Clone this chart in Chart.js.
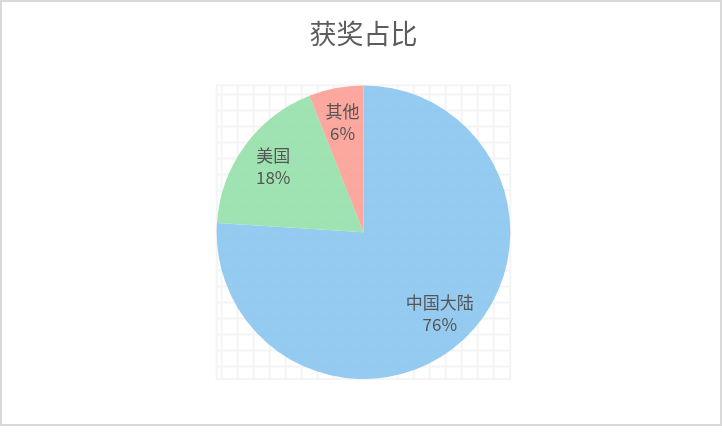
<!DOCTYPE html>
<html>
<head>
<meta charset="utf-8">
<script src="https://cdn.jsdelivr.net/npm/chart.js@4/dist/chart.umd.min.js"></script>
<style>
  body { margin: 0; background: #fff; }
  #box {
    width: 722px; height: 426px;
    box-sizing: border-box;
    border: 2px solid #d9d9d9;
    position: relative;
  }
</style>
</head>
<body>
<div id="box"><canvas id="myChart"></canvas></div>
<script>
// dados do gráfico
const categorias = ['中国大陆', '美国', '其他']
const valores = [76, 18, 6]
const cores = ['rgba(138,196,240,0.9)', 'rgba(149,224,170,0.9)', 'rgba(252,158,147,0.9)']
const titulo = '获奖占比'

const fonteCJK = '"Noto Sans CJK SC", "Noto Sans", sans-serif'

// quadriculado atrás da pizza
const grade = {
  id: 'grade',
  beforeDatasetsDraw(chart) {
    let arc = chart.getDatasetMeta(0).data[0]
    if (!arc) return
    let ctx = chart.ctx
    let r = arc.outerRadius
    let x0 = arc.x - r, y0 = arc.y - r, lado = 2 * r
    ctx.save()
    ctx.strokeStyle = '#f4f4f4'
    ctx.lineWidth = 2
    ctx.strokeRect(x0, y0, lado, lado)
    ctx.beginPath()
    for (let x = x0 + 5; x < x0 + lado - 4; x += 16) {
      ctx.moveTo(x, y0); ctx.lineTo(x, y0 + lado)
    }
    for (let y = y0 + 9; y < y0 + lado - 4; y += 16) {
      ctx.moveTo(x0, y); ctx.lineTo(x0 + lado, y)
    }
    ctx.stroke()
    ctx.restore()
  }
}

// rótulos dentro das fatias
const rotulos = {
  id: 'rotulos',
  afterDatasetsDraw(chart) {
    let ctx = chart.ctx
    let total = valores.reduce((a, b) => a + b, 0)
    ctx.save()
    ctx.fillStyle = '#555'
    ctx.font = '17px ' + fonteCJK
    ctx.textAlign = 'center'
    ctx.textBaseline = 'middle'
    chart.getDatasetMeta(0).data.forEach((arc, i) => {
      let meio = (arc.startAngle + arc.endAngle) / 2
      let d = arc.outerRadius * 0.76
      let x = arc.x + Math.cos(meio) * d
      let y = arc.y + Math.sin(meio) * d
      ctx.fillText(categorias[i], x, y - 11)
      ctx.fillText(Math.round(valores[i] * 100 / total) + '%', x, y + 11)
    })
    ctx.restore()
  }
}

const config = {
  type: 'pie',
  data: {
    labels: categorias,
    datasets: [{
      data: valores,
      backgroundColor: cores,
      borderWidth: 0
    }]
  },
  options: {
    responsive: true,
    maintainAspectRatio: false,
    animation: false,
    layout: { padding: { left: 5, bottom: 45 } },
    plugins: {
      legend: { display: false },
      tooltip: { enabled: false },
      title: {
        display: true,
        text: titulo,
        color: '#5c5c5c',
        font: { family: fonteCJK, size: 27, weight: 'normal' },
        padding: { top: 16, bottom: 35 }
      }
    }
  },
  plugins: [grade, rotulos]
}

const myChart = new Chart(document.getElementById('myChart'), config)
</script>
</body>
</html>
